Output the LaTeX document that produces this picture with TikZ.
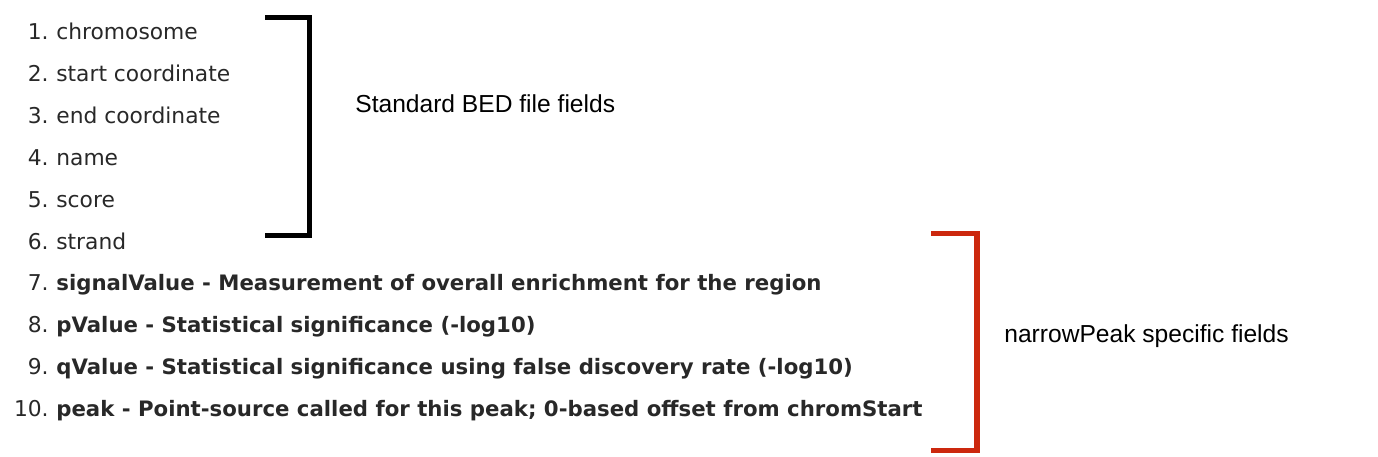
\documentclass[tikz,border=0pt]{standalone}
\usepackage{fontspec}
\usepackage{tikz}
\usetikzlibrary{positioning}
\newfontfamily\fieldfont{DejaVu Sans}
\newfontfamily\notefont{Liberation Sans}
\definecolor{peakred}{RGB}{204,40,14}
\definecolor{fieldgray}{RGB}{40,40,40}
\tikzset{
    field/.style={anchor=west, inner sep=0pt, text height=0.76em, text depth=0.24em, text=fieldgray, font=\fieldfont\fontsize{12.4}{14}\selectfont},
    extra/.style={field, font=\fieldfont\bfseries\fontsize{12.1}{14}\selectfont},
    fieldnum/.style={field, anchor=east},
    groupnote/.style={anchor=west, inner sep=0pt, font=\notefont\fontsize{14}{16}\selectfont},
    bracket/.style={line width=3.1pt, line join=miter}
}
\begin{document}
\begin{tikzpicture}[x=0.02cm, y=-0.02cm]
    \useasboundingbox (0,0) rectangle (1378,456);
    % list of fields
    \node (f1) [field] at (56,35) {chromosome};
    \node (f2) [field] at (56,77) {start coordinate};
    \node (f3) [field] at (56,119) {end coordinate};
    \node (f4) [field] at (56,161) {name};
    \node (f5) [field] at (56,203) {score};
    \node (f6) [field] at (56,245) {strand};
    \node (f7) [extra] at (56,286) {signalValue - Measurement of overall enrichment for the region};
    \node (f8) [extra] at (56,328) {pValue - Statistical significance (-log10)};
    \node (f9) [extra] at (56,370) {qValue - Statistical significance using false discovery rate (-log10)};
    \node (f10) [extra] at (56,412) {peak - Point-source called for this peak; 0-based offset from chromStart};
    \node (n1) [fieldnum, left=0.14cm of f1] {1.};
    \node (n2) [fieldnum, left=0.14cm of f2] {2.};
    \node (n3) [fieldnum, left=0.14cm of f3] {3.};
    \node (n4) [fieldnum, left=0.14cm of f4] {4.};
    \node (n5) [fieldnum, left=0.14cm of f5] {5.};
    \node (n6) [fieldnum, left=0.14cm of f6] {6.};
    \node (n7) [fieldnum, left=0.14cm of f7] {7.};
    \node (n8) [fieldnum, left=0.14cm of f8] {8.};
    \node (n9) [fieldnum, left=0.14cm of f9] {9.};
    \node (n10) [fieldnum, left=0.14cm of f10] {10.};
    % brackets
    \coordinate (bedtop) at (265,17.5);
    \coordinate (bedbot) at (265,235.5);
    \coordinate (peaktop) at (931,233.5);
    \coordinate (peakbot) at (931,450.5);
    \draw [bracket] (bedtop) -- ++(44.5,0) |- (bedbot);
    \draw [bracket, peakred] (peaktop) -- ++(46,0) |- (peakbot);
    \node (bed) [groupnote] at (355,104) {Standard BED file fields};
    \node (peak) [groupnote] at (1004,336) {narrowPeak specific fields};
\end{tikzpicture}
\end{document}
